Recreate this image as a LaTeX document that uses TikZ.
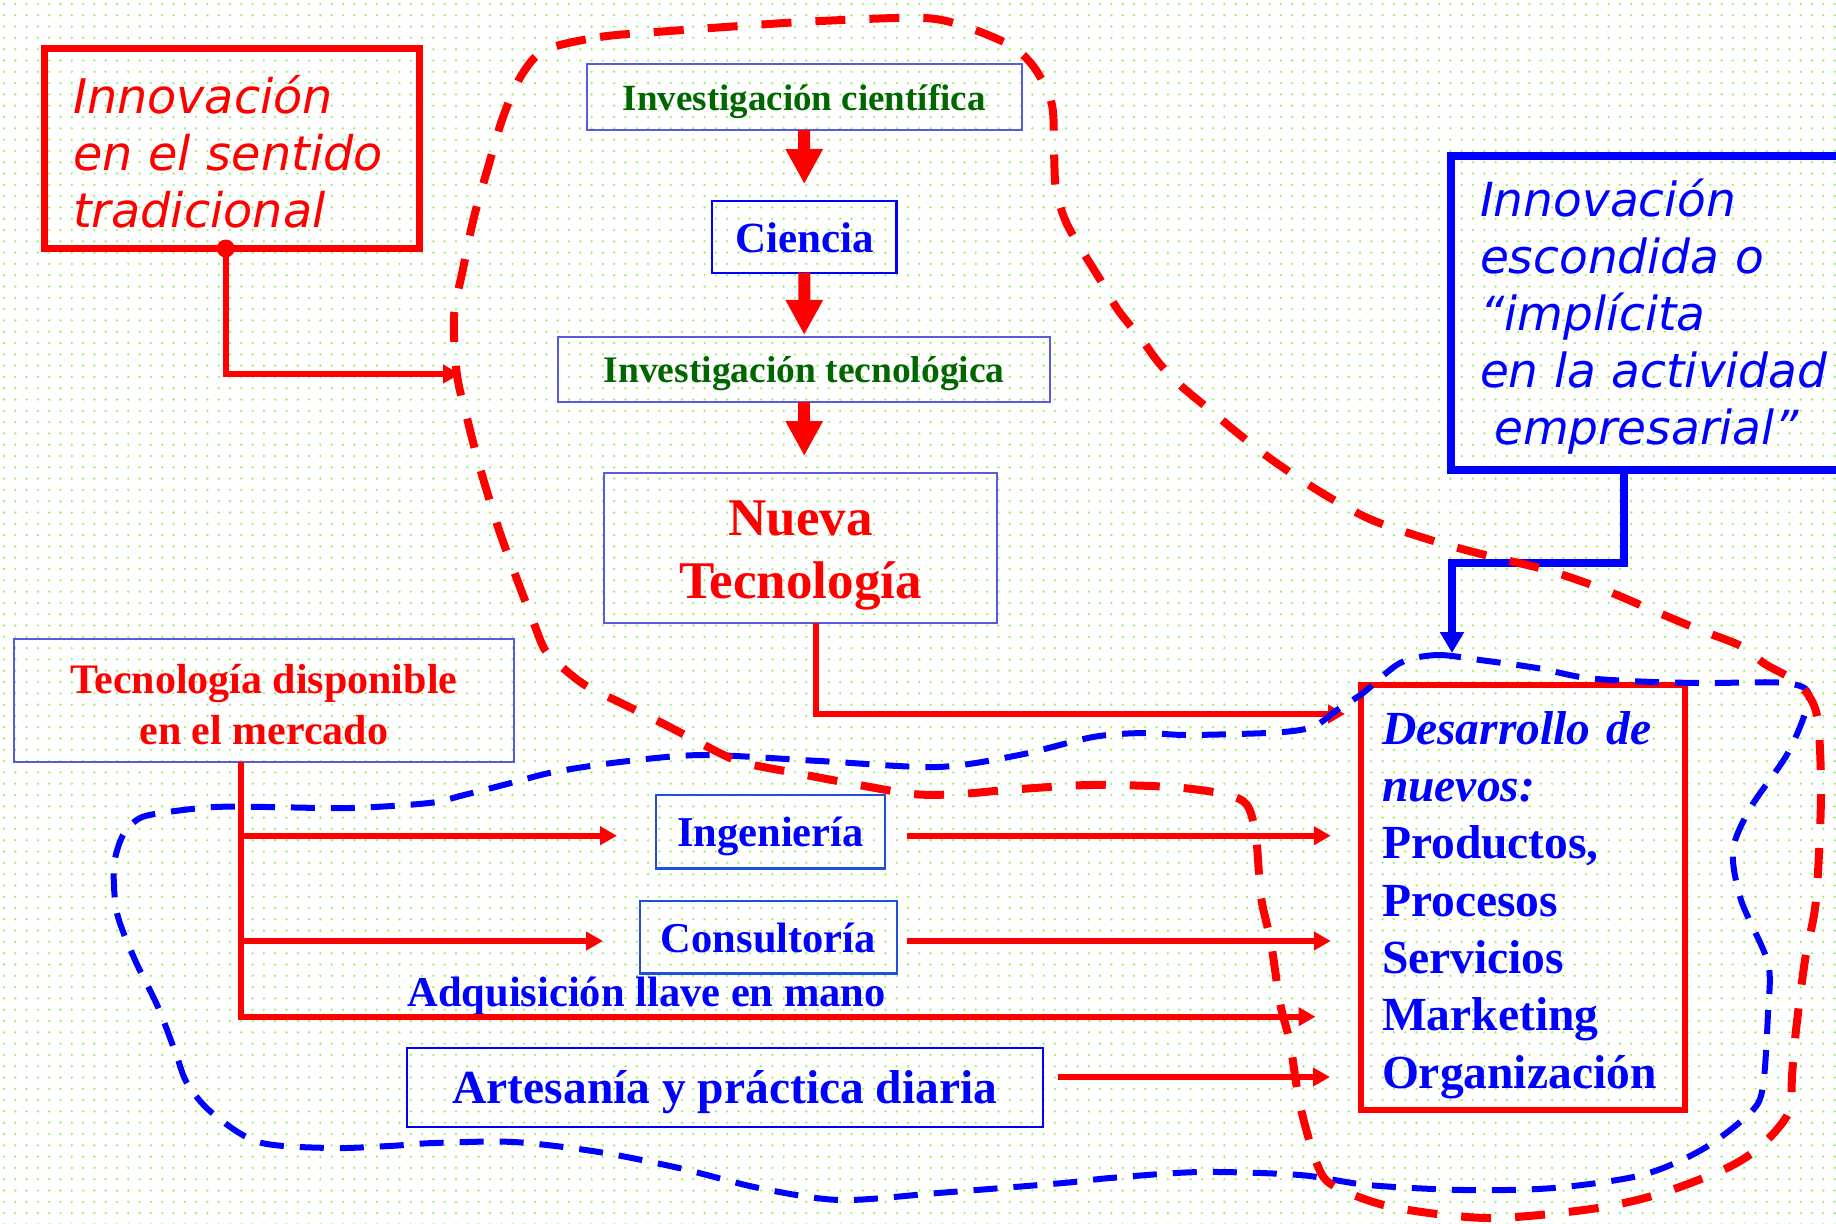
\documentclass[tikz,border=0pt]{standalone}
\usepackage{fontspec}
\setmainfont{Liberation Serif}
\newfontfamily\verd{DejaVu Sans}[ItalicFont={DejaVu Sans Oblique}]
\usetikzlibrary{arrows.meta,calc}
\definecolor{rd}{RGB}{255,0,0}
\definecolor{bl}{RGB}{0,0,255}
\definecolor{gr}{RGB}{0,102,0}
\definecolor{lav}{RGB}{90,90,220}
\definecolor{ingbl}{RGB}{30,80,220}
\definecolor{dotc}{RGB}{160,238,110}
\newcommand{\fsz}[2]{\fontsize{#1pt}{#2pt}\selectfont}
\tikzset{
  every node/.style={outer sep=0pt},
  thinbox/.style={draw=lav, line width=1pt, inner sep=0pt, align=center},
  bluebox/.style={draw=bl, line width=1.2pt, inner sep=0pt, align=center},
  ingbox/.style={draw=ingbl, line width=1.2pt, inner sep=0pt, align=center},
  redarrow/.style={draw=rd, line width=3pt, -{Triangle[length=8.5pt,width=9pt]}},
  bluearrow/.style={draw=bl, line width=4pt, -{Triangle[length=10.5pt,width=11.5pt]}},
  bigdown/.style={draw=rd, line width=6pt, -{Triangle[length=17.5pt,width=17.5pt]}},
  reddash/.style={draw=rd, line width=4pt, dash pattern=on 15pt off 12pt},
  bluedash/.style={draw=bl, line width=3pt, dash pattern=on 12pt off 8pt},
}
\begin{document}
\begin{tikzpicture}[x=0.5pt,y=-0.5pt]
\useasboundingbox (0,0) rectangle (1836,1223);
\fill[white] (0,0) rectangle (1836,1223);
\foreach \j in {0,...,108}
  \draw[dotc, line width=1.3pt, line cap=round, dash pattern=on 0pt off 5.65pt] (4,\j*11.3+4) -- (1836,\j*11.3+4);

% --- top-left red box
\node[draw=rd, line width=3.5pt, inner xsep=14.25pt, inner ysep=0pt, minimum width=187.25pt, minimum height=100pt,
      text width=158.75pt, align=left, text=rd, font=\verd\itshape\fsz{23.85}{28.5}]
  (trad) at (231.75,148.5) {\rule{0pt}{22pt}Innovación\\en el sentido\\tradicional};

% --- right blue box
\node[draw=bl, line width=4pt, anchor=north west, inner xsep=14.35pt, inner ysep=0pt, minimum height=157.3pt,
      text width=220pt, align=left, text=bl, font=\verd\itshape\fsz{23.5}{28.5}]
  (hidden) at (1451.3,155.7) {\rule{0pt}{22pt}Innovación\\escondida o\\“implícita\\en la actividad\\\hspace*{0.3em}empresarial”};

% --- central chain
\node[thinbox, minimum width=217.5pt, minimum height=33pt, text height=13.7pt, text depth=0pt, text=gr, font=\bfseries\fsz{18.5}{22}]
  (invc) at (804.2,97) {Investigación científica};
\node[bluebox, minimum width=92.35pt, minimum height=36pt, text height=16pt, text depth=0pt, text=bl, font=\bfseries\fsz{21.5}{25}]
  (ciencia) at (804.3,236.7) {Ciencia};
\node[thinbox, minimum width=245.85pt, minimum height=32.65pt, text height=13.4pt, text depth=0pt, text=gr, font=\bfseries\fsz{18.75}{22}]
  (invt) at (804.2,369.3) {Investigación tecnológica};
\node[thinbox, minimum width=196.65pt, minimum height=74.7pt, text=rd, font=\bfseries\fsz{26.5}{31.5}]
  (nueva) at (800.6,548) {\rule{0pt}{24.5pt}Nueva\\Tecnología};

% --- lower left
\node[thinbox, minimum width=250.2pt, minimum height=61.3pt, text=rd, font=\bfseries\fsz{21}{25.5}]
  (tdisp) at (263.8,700.7) {\rule{0pt}{18pt}Tecnología disponible\\en el mercado};
\node[ingbox, minimum width=114.5pt, minimum height=36.65pt, text height=15pt, text depth=0pt, text=bl, font=\bfseries\fsz{21.25}{25}]
  (ing) at (770.5,831.7) {Ingeniería};
\node[ingbox, minimum width=128.6pt, minimum height=36.15pt, text height=15.5pt, text depth=0pt, text=bl, font=\bfseries\fsz{21.25}{25}]
  (cons) at (768.4,937.2) {Consultoría};
\node[anchor=base west, inner sep=0pt, text=bl, font=\bfseries\fsz{21.25}{25}]
  (adq) at (407.5,1006) {Adquisición llave en mano};
\node[bluebox, minimum width=318.1pt, minimum height=39.5pt, text height=16.1pt, text depth=0pt, text=bl, font=\bfseries\fsz{23.75}{28}]
  (art) at (724.9,1087.2) {Artesanía y práctica diaria};

% --- development box
\node[draw=rd, line width=3pt, inner xsep=10.5pt, inner ysep=0pt, minimum width=162pt, minimum height=212.5pt,
      text width=141pt, align=left, text=bl, font=\bfseries\fsz{23.75}{28.65}]
  (dev) at (1523,897.5) {\rule{0pt}{24pt}\textit{Desarrollo de}\\\textit{nuevos:}\\Productos,\\Procesos\\Servicios\\Marketing\\Organización};

% --- connectors
\coordinate (tradout) at ([xshift=-3pt]trad.south);
\coordinate (innerin) at (460,374);
\fill[rd] (tradout) circle (4.5pt);
\draw[redarrow] (tradout) |- (innerin);

\draw[bigdown, shorten >=8.35pt] (invc.south) -- (ciencia.north);
\draw[bigdown, shorten >=0.85pt] (ciencia.south) -- (invt.north);
\draw[bigdown, shorten >=8.65pt] (invt.south) -- (invt.south |- nueva.north);

\coordinate (nvout) at ([xshift=7.5pt]nueva.south);
\draw[redarrow, shorten >=8pt] (nvout) |- ([yshift=-14.5pt]dev.north west);

\coordinate (hidout) at ([xshift=86.35pt]hidden.south west);
\coordinate (bturn) at (1452,563);
\draw[bluearrow, shorten >=16pt] (hidout) |- (bturn) -- (bturn |- dev.north);

\coordinate (tdout) at ([xshift=-11.4pt]tdisp.south);
\draw[redarrow, shorten >=19.5pt] (tdout) |- ([yshift=-2pt]ing.west);
\draw[redarrow, shorten >=18.4pt] (tdout) |- ([yshift=-1.9pt]cons.west);
\draw[redarrow, shorten >=22.75pt] (tdout) |- ([yshift=-59.6pt]dev.west);

\draw[redarrow, shorten <=10.85pt, shorten >=15.1pt] ([yshift=-2pt]ing.east) -- ([yshift=-2pt]ing.east -| dev.west);
\draw[redarrow, shorten <=4.85pt, shorten >=15.1pt] ([yshift=-1.9pt]cons.east) -- ([yshift=-1.9pt]cons.east -| dev.west);
\draw[redarrow, shorten <=7.5pt, shorten >=15.5pt] ([yshift=5.1pt]art.east) -- ([yshift=5.1pt]art.east -| dev.west);

% --- dashed regions
\draw[bluedash] plot[smooth cycle, tension=0.5] coordinates {
(1400,663) (1437,655) (1480,660) (1537,668) (1587,678) (1653,682) (1710,683) (1785,683) (1809,696)
(1789,751) (1751,807) (1733,850) (1741,900) (1768,963) (1768,1012) (1763,1086) (1751,1112) (1703,1149)
(1642,1175) (1553,1188) (1464,1190) (1368,1185) (1300,1175) (1200,1172) (1110,1178) (1063,1183) (938,1193)
(840,1200) (759,1188) (679,1168) (599,1152) (514,1142) (434,1143) (389,1146) (330,1148) (258,1142)
(211,1112) (187,1083) (176,1054) (158,1007) (135,960) (117,913) (114,866) (123,835) (140,818) (168,812)
(214,807) (268,807) (350,808) (429,803) (464,795) (511,783) (554,772) (620,762) (703,755) (820,761)
(937,767) (1019,755) (1093,737) (1143,733) (1187,735) (1267,733) (1300,730) (1317,725) (1337,710) (1363,693)};

\draw[reddash] plot[smooth cycle, tension=0.5] coordinates {
(545,50) (600,37) (656,32) (740,26) (820,21) (925,18) (972,29) (1013,47) (1036,70) (1052,105) (1054,152)
(1056,190) (1066,222) (1083,252) (1101,281) (1118,310) (1142,340) (1159,363) (1180,385) (1210,410)
(1240,435) (1275,462) (1322,493) (1372,520) (1437,542) (1493,557) (1547,570) (1600,588) (1652,610)
(1700,630) (1741,646) (1765,664) (1792,679) (1809,696) (1818,722) (1821,796) (1816,900) (1805,960)
(1796,1030) (1792,1075) (1789,1112) (1762,1145) (1727,1168) (1659,1194) (1591,1209) (1488,1218)
(1392,1207) (1334,1186) (1317,1164) (1300,1105) (1290,1043) (1280,1003) (1271,943) (1261,897)
(1256,837) (1247,805) (1224,794) (1171,787) (1089,785) (1007,790) (960,794) (913,794) (843,782)
(796,773) (738,761) (691,738) (656,720) (621,703) (585,685) (562,667) (545,650) (533,621) (515,574)
(498,527) (480,468) (468,422) (457,375) (454,316) (463,269) (474,217) (489,164) (503,117) (521,76)};
\end{tikzpicture}
\end{document}
